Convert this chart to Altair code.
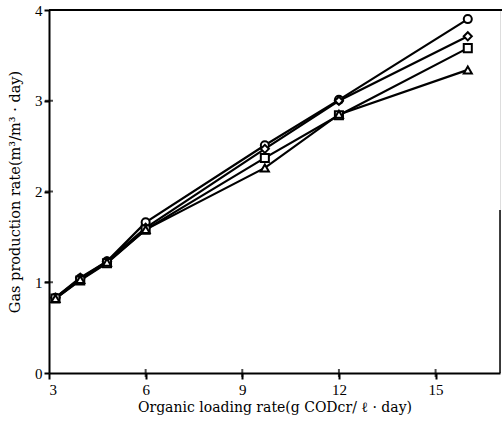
import altair as alt
import pandas as pd

x_vals = [3.2, 3.97, 4.8, 6.0, 9.7, 12.0, 16.0]
circle = [0.83, 1.04, 1.23, 1.66, 2.51, 3.01, 3.90]
diamond = [0.83, 1.05, 1.23, 1.60, 2.47, 3.00, 3.71]
square = [0.82, 1.02, 1.21, 1.58, 2.37, 2.84, 3.58]
triangle = [0.82, 1.03, 1.22, 1.58, 2.26, 2.85, 3.34]

series = {"circle": circle, "diamond": diamond, "square": square, "triangle-up": triangle}
rows = []
for name, vals in series.items():
    for x, y in zip(x_vals, vals):
        rows.append({"x": x, "y": y, "s": name})
df = pd.DataFrame(rows)

x_ticks = [6, 9, 12, 15]
y_ticks = [1, 2, 3]
serif = "Liberation Serif"
tserif = "DejaVu Serif"

xs = alt.Scale(domain=[3, 17], nice=False)
ys = alt.Scale(domain=[0, 4], nice=False)

base = alt.Chart(df)
lines = base.mark_line(color="black", strokeWidth=2.2, interpolate="linear").encode(
    x=alt.X("x:Q", scale=xs, axis=alt.Axis(values=[3, 6, 9, 12, 15], format="d",
                                           title="Organic loading rate(g CODcr/ ℓ  · day)",
                                           grid=False, domainColor="black", domainWidth=2, tickColor="black",
                                           tickWidth=2, tickSize=6, labelFont=serif, labelFontSize=15,
                                           labelColor="black", titleFont=tserif, titleFontSize=14,
                                           titleFontWeight="normal", titleColor="black", labelPadding=3, titlePadding=3)),
    y=alt.Y("y:Q", scale=ys, axis=alt.Axis(values=[0, 1, 2, 3, 4], format="d",
                                           title="Gas production rate(m³/m³ · day)",
                                           grid=False, domainColor="black", domainWidth=2, tickColor="black",
                                           tickWidth=2, tickSize=5, labelFont=serif, labelFontSize=15,
                                           labelColor="black", titleFont=tserif, titleFontSize=14.5,
                                           titleFontWeight="normal", titleColor="black", labelPadding=2, titlePadding=12)),
    detail="s:N",
)
pts = base.mark_point(filled=True, fill="white", stroke="black", strokeWidth=2, size=65, opacity=1).encode(
    x=alt.X("x:Q", scale=xs),
    y=alt.Y("y:Q", scale=ys),
    shape=alt.Shape("s:N", scale=alt.Scale(domain=list(series.keys()), range=list(series.keys())), legend=None),
)

xt = alt.Chart(pd.DataFrame({"x": x_ticks})).mark_tick(color="black", thickness=2, size=8, orient="vertical").encode(
    x=alt.X("x:Q", scale=xs), y=alt.value(363)
)
yt = alt.Chart(pd.DataFrame({"y": y_ticks})).mark_tick(color="black", thickness=2, size=8, orient="horizontal").encode(
    y=alt.Y("y:Q", scale=ys), x=alt.value(0)
)
top = alt.Chart(pd.DataFrame({"a": [0]})).mark_rule(color="black", strokeWidth=2).encode(
    x=alt.value(0), x2=alt.value(453), y=alt.value(0)
)
right = alt.Chart(pd.DataFrame({"a": [0]})).mark_rule(color="black", strokeWidth=1.5).encode(
    x=alt.value(451), y=alt.value(200), y2=alt.value(363)
)

chart = alt.layer(lines, pts, xt, yt, top, right).properties(
    width=451, height=363, autosize=alt.AutoSizeParams(type="none"),
    padding={"left": 49, "top": 10, "right": 2, "bottom": 50},
).configure_view(stroke=None).configure(background="white")

chart.save("out.html", embed_options={"renderer": "svg", "actions": False})
